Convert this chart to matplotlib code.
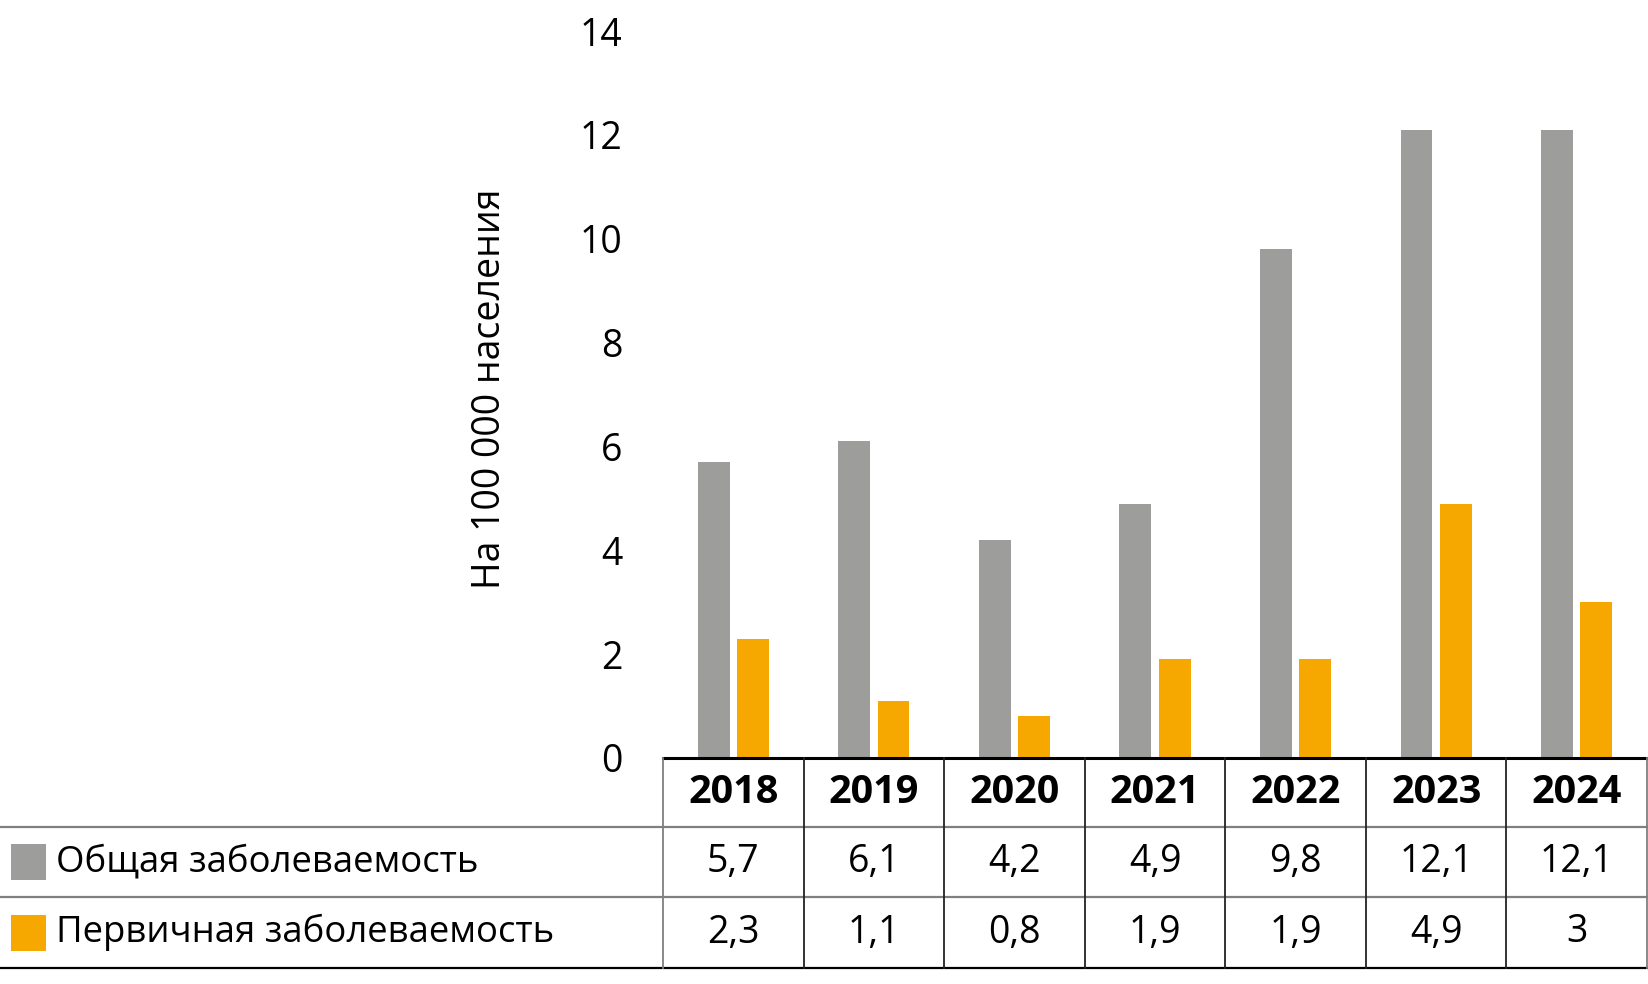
import matplotlib
matplotlib.use("Agg")
import matplotlib.pyplot as plt
from matplotlib.transforms import blended_transform_factory
from matplotlib.patches import Rectangle
from matplotlib.lines import Line2D

years = ["2018", "2019", "2020", "2021", "2022", "2023", "2024"]
general = [5.7, 6.1, 4.2, 4.9, 9.8, 12.1, 12.1]
primary = [2.3, 1.1, 0.8, 1.9, 1.9, 4.9, 3.0]
general_labels = ["5,7", "6,1", "4,2", "4,9", "9,8", "12,1", "12,1"]
primary_labels = ["2,3", "1,1", "0,8", "1,9", "1,9", "4,9", "3"]
series_names = ["Общая заболеваемость", "Первичная заболеваемость"]
ylabel = "На 100 000 населения"
yticks = [0, 2, 4, 6, 8, 10, 12, 14]

GRAY = "#9d9d9c"
ORANGE = "#f6a800"
FONT = "Open Sans"
FS = 27

W, H = 1649, 984
plt.rcParams['font.family'] = [FONT, 'DejaVu Sans']

fig = plt.figure(figsize=(W / 100, H / 100), dpi=100)

def fx(px):
    return px / W

def fy(py):
    return 1 - py / H

ax_left, ax_right, ax_top, ax_bottom = 663, 1647, 31, 758
ax = fig.add_axes([fx(ax_left), fy(ax_bottom), (ax_right - ax_left) / W, (ax_bottom - ax_top) / H])

x = list(range(len(years)))
bw = 0.227
off = 0.14
ax.bar([i - off for i in x], general, width=bw, color=GRAY, zorder=2)
ax.bar([i + off for i in x], primary, width=bw, color=ORANGE, zorder=2)

ax.set_xlim(-0.5, len(years) - 0.5)
ax.set_ylim(0, 14)
ax.set_yticks(yticks)
ax.set_yticklabels([str(t) for t in yticks], fontsize=FS)
ax.tick_params(axis='y', length=0, pad=29)
ax.set_xticks([])
for s in ["top", "right", "left"]:
    ax.spines[s].set_visible(False)
ax.spines["bottom"].set_linewidth(2.2)
ax.spines["bottom"].set_color("black")

fig.text(fx(490), fy(389), ylabel, rotation=90, ha="center", va="center", fontsize=FS)

# table
tr = blended_transform_factory(ax.transData, fig.transFigure)
row_lines = [827, 897]
bottom_line = 968
for yl in row_lines:
    fig.add_artist(Line2D([0, fx(ax_right)], [fy(yl), fy(yl)], transform=fig.transFigure,
                          color="#7f7f7f", lw=1.6))
fig.add_artist(Line2D([0, fx(ax_right)], [fy(bottom_line), fy(bottom_line)], transform=fig.transFigure,
                      color="black", lw=1.6))
for i in range(len(years) + 1):
    xb = i - 0.5
    col = "#7f7f7f" if i in (0, len(years)) else "#222222"
    fig.add_artist(Line2D([xb, xb], [fy(ax_bottom), fy(bottom_line)], transform=tr, color=col, lw=1.3))

row_centers = [(ax_bottom + 827) / 2, (827 + 897) / 2, (897 + 968) / 2]
for i, yr in enumerate(years):
    fig.text(i, fy(row_centers[0]), yr, transform=tr, ha="center", va="center",
             fontsize=28.5, fontweight="bold")
    fig.text(i, fy(row_centers[1]), general_labels[i], transform=tr, ha="center", va="center", fontsize=FS)
    fig.text(i, fy(row_centers[2]), primary_labels[i], transform=tr, ha="center", va="center", fontsize=FS)

for k, (name, c) in enumerate(zip(series_names, [GRAY, ORANGE])):
    yc = row_centers[k + 1]
    fig.add_artist(Rectangle((fx(11), fy(yc + 18)), 35 / W, 36 / H, transform=fig.transFigure,
                             facecolor=c, edgecolor="none"))
    fig.text(fx(56), fy(yc), name, ha="left", va="center", fontsize=26.3)

fig.savefig("out.png", dpi=100)
